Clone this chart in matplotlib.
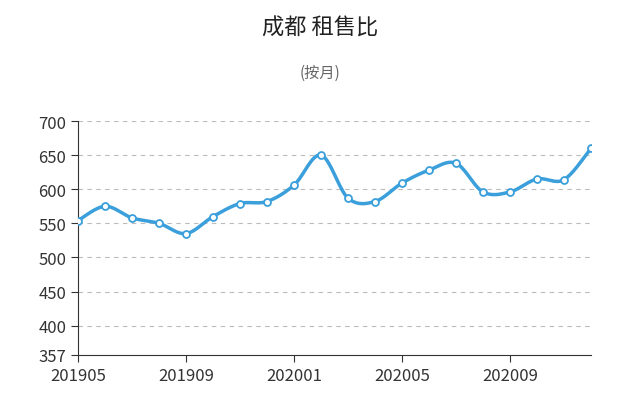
import numpy as np
import matplotlib
matplotlib.use("Agg")
import matplotlib.pyplot as plt

plt.rcParams['font.family'] = ['Noto Sans CJK SC', 'DejaVu Sans']

months = ["201905","201906","201907","201908","201909","201910","201911","201912",
          "202001","202002","202003","202004","202005","202006","202007","202008",
          "202009","202010","202011","202012"]
values = [554, 575, 558, 550, 535, 560, 579, 582, 606, 650, 587, 582, 609, 628, 638, 596,
          596, 615, 614, 660]
yticks = [357, 400, 450, 500, 550, 600, 650, 700]

x = np.arange(len(values), dtype=float)
y = np.array(values, dtype=float)

# Catmull-Rom smoothing
xs, ys = [], []
P = np.column_stack([x, y])
P = np.vstack([P[0], P, P[-1]])
for i in range(1, len(P) - 2):
    p0, p1, p2, p3 = P[i-1], P[i], P[i+1], P[i+2]
    t = np.linspace(0, 1, 20)[:, None]
    seg = 0.5 * ((2*p1) + (-p0 + p2)*t + (2*p0 - 5*p1 + 4*p2 - p3)*t**2 + (-p0 + 3*p1 - 3*p2 + p3)*t**3)
    xs.extend(seg[:, 0]); ys.extend(seg[:, 1])

fig = plt.figure(figsize=(6.4, 4.06), dpi=100)
ax = fig.add_axes([78/640, 1-356/406, (591-78)/640, (356-122)/406])
color = '#3a9fdb'
ax.plot(xs, ys, color=color, lw=2.5, zorder=3)
ax.plot(x, y, 'o', ms=5, mfc='white', mec=color, mew=1.3, zorder=4)

ax.set_xlim(0, len(values)-1)
ax.set_ylim(357, 700)
ax.set_yticks(yticks)
ax.set_xticks(x[::4])
ax.set_xticklabels(months[::4])
ax.tick_params(labelsize=12, colors='#333333', length=5, color='#333333')
for v in yticks[1:]:
    ax.axhline(v, color='#bbbbbb', ls=(0, (4, 4)), lw=0.8, zorder=1)
for s in ['top', 'right']:
    ax.spines[s].set_visible(False)
ax.spines['left'].set_color('#333333')
ax.spines['bottom'].set_color('#333333')

fig.text(0.5, 1-28/406, "成都 租售比", ha='center', va='center', fontsize=16, color='#222222')
fig.text(0.5, 1-73/406, "(按月)", ha='center', va='center', fontsize=11, color='#666666')
fig.savefig("out.png", dpi=100)
